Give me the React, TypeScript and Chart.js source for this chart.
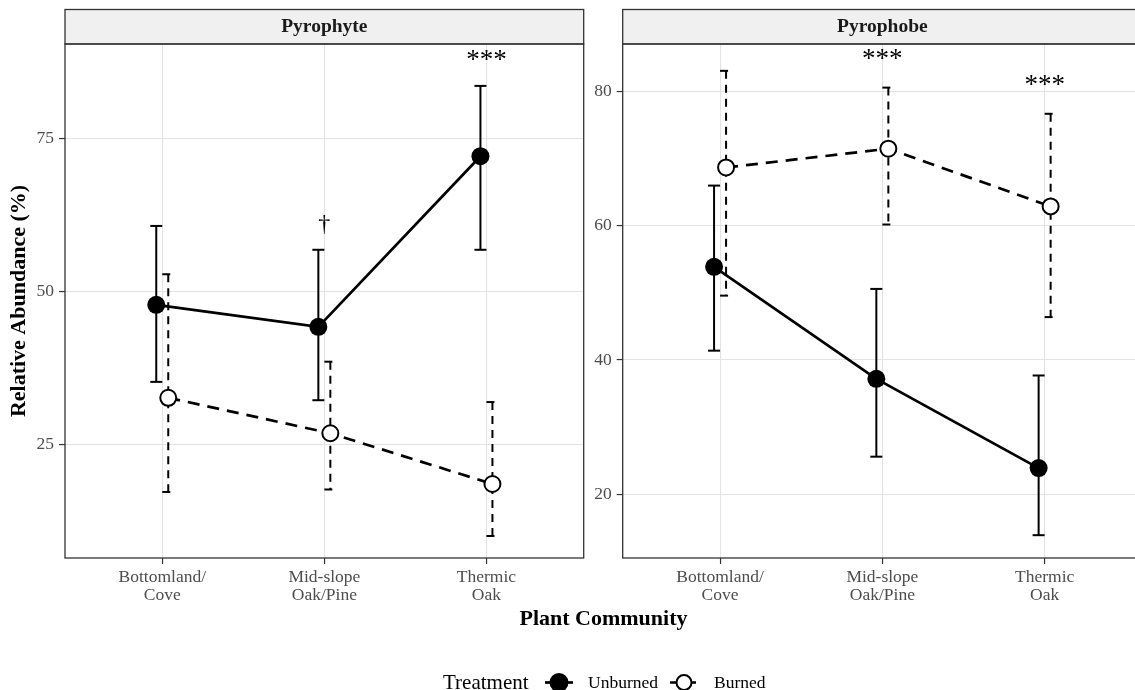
import React, { useEffect, useRef } from "react";
import { Chart, registerables } from "chart.js";
Chart.register(...registerables);

const FONT = '"Liberation Serif", "Times New Roman", Times, serif';

// ---------- data ----------
const categories: string[][] = [
  ["Bottomland/", "Cove"],
  ["Mid-slope", "Oak/Pine"],
  ["Thermic", "Oak"],
];
const treatments = ["Unburned", "Burned"];
const panelTitles = ["Pyrophyte", "Pyrophobe"];
const legendTitle = "Treatment";
const xTitle = "Plant Community";
const yTitle = "Relative Abundance (%)";

// Pyrophyte panel
const pyrophyteUnburned = [47.8, 44.2, 72.1];
const pyrophyteUnburnedLow = [35.2, 32.2, 56.8];
const pyrophyteUnburnedHigh = [60.7, 56.8, 83.6];
const pyrophyteBurned = [32.6, 26.8, 18.5];
const pyrophyteBurnedLow = [17.2, 17.6, 10.0];
const pyrophyteBurnedHigh = [52.8, 38.5, 31.9];
const pyrophyteMarks = ["", "†", "***"];
const pyrophyteMarkY = [0, 60.9, 88.6];
const pyrophyteTicks = [25, 50, 75];

// Pyrophobe panel
const pyrophobeUnburned = [53.9, 37.2, 23.9];
const pyrophobeUnburnedLow = [41.4, 25.6, 13.9];
const pyrophobeUnburnedHigh = [66.0, 50.6, 37.7];
const pyrophobeBurned = [68.7, 71.5, 62.9];
const pyrophobeBurnedLow = [49.6, 60.2, 46.4];
const pyrophobeBurnedHigh = [83.1, 80.6, 76.7];
const pyrophobeMarks = ["", "***", "***"];
const pyrophobeMarkY = [0, 85.5, 81.7];
const pyrophobeTicks = [20, 40, 60, 80];

// ---------- style constants ----------
const DODGE = 0.037;
const CAP = 0.037;
const X_MIN = 0.4;
const X_MAX = 3.6;
const PLOT_TOP = 44;
const PLOT_BOTTOM = 558;
const H = 690;
const W = 1135;

type Spec = {
  title: string;
  unb: number[]; unbLo: number[]; unbHi: number[];
  bur: number[]; burLo: number[]; burHi: number[];
  marks: string[]; markY: number[];
  ticks: number[];
  yMin: number; yMax: number;
  yAxisWidth: number; padRight: number;
  extras: boolean;
};

function drawLegendKey(ctx: CanvasRenderingContext2D, cx: number, cy: number, filled: boolean) {
  ctx.save();
  ctx.strokeStyle = "#000";
  ctx.lineWidth = 2.7;
  ctx.setLineDash(filled ? [] : [6, 4]);
  ctx.beginPath();
  ctx.moveTo(cx - 14, cy);
  ctx.lineTo(cx + 14, cy);
  ctx.stroke();
  ctx.setLineDash([]);
  ctx.beginPath();
  ctx.arc(cx, cy, filled ? 8.5 : 7.5, 0, Math.PI * 2);
  ctx.fillStyle = filled ? "#000" : "#fff";
  ctx.fill();
  ctx.lineWidth = 2;
  ctx.stroke();
  ctx.restore();
}

function makePlugin(spec: Spec) {
  return {
    id: "facet" + spec.title,
    beforeDatasetsDraw(chart: any) {
      const { ctx } = chart;
      const xs = chart.scales.x;
      const ys = chart.scales.y;
      const groups = [
        { lo: spec.unbLo, hi: spec.unbHi, off: -DODGE, dash: [] as number[] },
        { lo: spec.burLo, hi: spec.burHi, off: DODGE, dash: [8, 6] },
      ];
      ctx.save();
      ctx.strokeStyle = "#000";
      ctx.lineWidth = 2;
      ctx.lineCap = "butt";
      const seg = (a: number, b: number, c: number, d: number, dash: number[]) => {
        ctx.setLineDash(dash);
        ctx.beginPath();
        ctx.moveTo(a, b);
        ctx.lineTo(c, d);
        ctx.stroke();
      };
      groups.forEach((g) => {
        g.lo.forEach((_, i) => {
          const xc = xs.getPixelForValue(i + 1 + g.off);
          const x0 = xs.getPixelForValue(i + 1 + g.off - CAP);
          const x1 = xs.getPixelForValue(i + 1 + g.off + CAP);
          const yh = ys.getPixelForValue(g.hi[i]);
          const yl = ys.getPixelForValue(g.lo[i]);
          seg(x0, yh, x1, yh, g.dash);
          seg(xc, yh, xc, yl, g.dash);
          seg(x0, yl, x1, yl, g.dash);
        });
      });
      ctx.restore();
    },
    afterDatasetsDraw(chart: any) {
      const { ctx } = chart;
      const xs = chart.scales.x;
      const ys = chart.scales.y;
      ctx.save();
      ctx.fillStyle = "#000";
      ctx.textAlign = "center";
      ctx.textBaseline = "alphabetic";
      spec.marks.forEach((m, i) => {
        if (!m) return;
        const x = xs.getPixelForValue(i + 1);
        const y = ys.getPixelForValue(spec.markY[i]);
        if (m === "†") {
          ctx.font = `24px ${FONT}`;
          ctx.fillText(m, x, y + 0.26 * 24);
        } else {
          ctx.font = `27px ${FONT}`;
          ctx.fillText(m, x, y + 0.46 * 27);
        }
      });
      ctx.restore();
    },
    afterDraw(chart: any) {
      const { ctx, chartArea } = chart;
      const { left, top, bottom, right } = chartArea;
      ctx.save();
      // strip
      ctx.fillStyle = "#F0F0F0";
      ctx.fillRect(left, 9.5, right - left, top - 9.5);
      ctx.strokeStyle = "#333333";
      ctx.lineWidth = 1.3;
      ctx.strokeRect(left, 9.5, right - left, top - 9.5);
      ctx.fillStyle = "#1A1A1A";
      ctx.font = `bold 19.5px ${FONT}`;
      ctx.textAlign = "center";
      ctx.textBaseline = "middle";
      ctx.fillText(spec.title, (left + right) / 2, 27);
      // panel border
      ctx.strokeStyle = "#333333";
      ctx.lineWidth = 1.3;
      ctx.strokeRect(left, top, right - left, bottom - top);
      if (spec.extras) {
        ctx.fillStyle = "#000";
        ctx.font = `bold 22px ${FONT}`;
        ctx.textAlign = "center";
        ctx.textBaseline = "middle";
        ctx.save();
        ctx.translate(19, (PLOT_TOP + PLOT_BOTTOM) / 2);
        ctx.rotate(-Math.PI / 2);
        ctx.fillText(yTitle, 0, 0);
        ctx.restore();
        ctx.fillText(xTitle, 603.5, 619);
        // legend
        ctx.textAlign = "left";
        ctx.font = `21px ${FONT}`;
        ctx.fillText(legendTitle, 443, 683);
        drawLegendKey(ctx, 559, 682.5, true);
        ctx.font = `17.5px ${FONT}`;
        ctx.fillStyle = "#000";
        ctx.fillText(treatments[0], 588, 683);
        drawLegendKey(ctx, 684, 682.5, false);
        ctx.fillStyle = "#000";
        ctx.fillText(treatments[1], 714, 683);
      }
      ctx.restore();
    },
  };
}

function buildChart(canvas: HTMLCanvasElement, spec: Spec) {
  const unbPts = spec.unb.map((v, i) => ({ x: i + 1 - DODGE, y: v }));
  const burPts = spec.bur.map((v, i) => ({ x: i + 1 + DODGE, y: v }));
  return new Chart(canvas, {
    type: "line",
    data: {
      datasets: [
        {
          label: treatments[0],
          data: unbPts,
          borderColor: "#000",
          backgroundColor: "#000",
          borderWidth: 2.7,
          pointRadius: 9,
          pointBorderWidth: 0,
          pointBackgroundColor: "#000",
          pointBorderColor: "#000",
          tension: 0,
          fill: false,
        },
        {
          label: treatments[1],
          data: burPts,
          borderColor: "#000",
          backgroundColor: "#fff",
          borderWidth: 2.7,
          borderDash: [12, 8],
          pointRadius: 8,
          pointBorderWidth: 2,
          pointBackgroundColor: "#fff",
          pointBorderColor: "#000",
          tension: 0,
          fill: false,
        },
      ],
    },
    options: {
      responsive: false,
      animation: false,
      devicePixelRatio: 1,
      events: [],
      layout: { padding: { left: 0, top: PLOT_TOP, right: spec.padRight, bottom: 0 } },
      plugins: { legend: { display: false }, tooltip: { enabled: false }, title: { display: false } },
      scales: {
        x: {
          type: "linear",
          min: X_MIN,
          max: X_MAX,
          afterBuildTicks: (s: any) => {
            s.ticks = categories.map((_, i) => ({ value: i + 1 }));
          },
          afterFit: (s: any) => {
            s.height = H - PLOT_BOTTOM;
            s.paddingLeft = 0;
            s.paddingRight = 0;
          },
          ticks: {
            callback: (v: any) => categories[Math.round(Number(v)) - 1] as any,
            color: "#4D4D4D",
            font: { family: FONT, size: 17.5, lineHeight: 1.05 },
            padding: 4,
            maxRotation: 0,
            autoSkip: false,
          },
          grid: { color: "#E3E3E3", lineWidth: 1.1, tickColor: "#333333", tickLength: 6, tickWidth: 1.2 },
          border: { display: false },
        },
        y: {
          type: "linear",
          min: spec.yMin,
          max: spec.yMax,
          afterBuildTicks: (s: any) => {
            s.ticks = spec.ticks.map((v) => ({ value: v }));
          },
          afterFit: (s: any) => {
            s.width = spec.yAxisWidth;
            s.paddingTop = 0;
            s.paddingBottom = 0;
          },
          ticks: {
            color: "#4D4D4D",
            font: { family: FONT, size: 17.5 },
            padding: 5,
          },
          grid: { color: "#E3E3E3", lineWidth: 1.1, tickColor: "#333333", tickLength: 6, tickWidth: 1.2 },
          border: { display: false },
        },
      },
    } as any,
    plugins: [makePlugin(spec) as any],
  });
}

const RIGHT_LEFT = 592;
const RIGHT_W = 620;
const RIGHT_PANEL_RIGHT = 1142;

export default function App() {
  const leftRef = useRef<HTMLCanvasElement>(null);
  const rightRef = useRef<HTMLCanvasElement>(null);

  useEffect(() => {
    const left = buildChart(leftRef.current!, {
      title: panelTitles[0],
      unb: pyrophyteUnburned, unbLo: pyrophyteUnburnedLow, unbHi: pyrophyteUnburnedHigh,
      bur: pyrophyteBurned, burLo: pyrophyteBurnedLow, burHi: pyrophyteBurnedHigh,
      marks: pyrophyteMarks, markY: pyrophyteMarkY,
      ticks: pyrophyteTicks,
      yMin: 6.4, yMax: 90.45,
      yAxisWidth: 65, padRight: W - 583.7,
      extras: true,
    });
    const right = buildChart(rightRef.current!, {
      title: panelTitles[1],
      unb: pyrophobeUnburned, unbLo: pyrophobeUnburnedLow, unbHi: pyrophobeUnburnedHigh,
      bur: pyrophobeBurned, burLo: pyrophobeBurnedLow, burHi: pyrophobeBurnedHigh,
      marks: pyrophobeMarks, markY: pyrophobeMarkY,
      ticks: pyrophobeTicks,
      yMin: 10.5, yMax: 87.1,
      yAxisWidth: 622.7 - RIGHT_LEFT, padRight: RIGHT_LEFT + RIGHT_W - RIGHT_PANEL_RIGHT,
      extras: false,
    });
    return () => {
      left.destroy();
      right.destroy();
    };
  }, []);

  return (
    <div style={{ position: "absolute", left: 0, top: 0, width: W, height: H, overflow: "hidden", background: "#fff" }}>
      <canvas
        ref={leftRef}
        width={W}
        height={H}
        style={{ position: "absolute", left: 0, top: 0, width: W, height: H }}
      />
      <canvas
        ref={rightRef}
        width={RIGHT_W}
        height={H}
        style={{ position: "absolute", left: RIGHT_LEFT, top: 0, width: RIGHT_W, height: H }}
      />
    </div>
  );
}
